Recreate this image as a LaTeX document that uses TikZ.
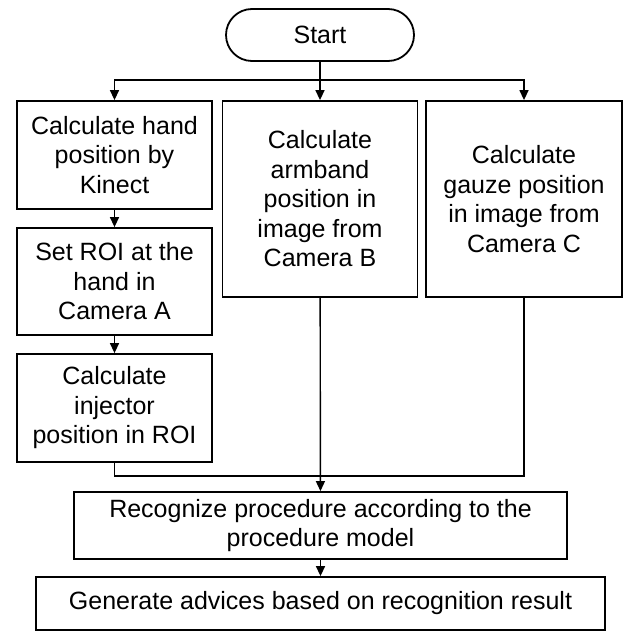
\documentclass[tikz,border=0pt]{standalone}
\usepackage{fontspec}
\setmainfont{Liberation Sans}
\usetikzlibrary{arrows.meta}

\begin{document}
\begin{tikzpicture}
  [
    x=0.5pt, y=-0.5pt,
    every node/.style={draw, line width=0.9pt, align=center, inner sep=0pt,
      font=\fontsize{12.5}{14.75}\selectfont},
    stepbox/.style={rectangle, minimum width=97.5pt, minimum height=54pt},
    tallbox/.style={rectangle, minimum width=97.5pt, minimum height=98pt},
    link/.style={line width=0.7pt},
    arr/.style={link, -{Triangle[length=5pt,width=4.5pt]}}
  ]
  \useasboundingbox (0,0) rectangle (626,631);
  \node[rounded corners=13pt, minimum width=94pt, minimum height=26pt] (start) at (320,35) {Start};
  \coordinate (split) at (320,80);
  \coordinate (merge) at (320,476);
  \node[stepbox] (hand) at (114.5,155) {Calculate hand\\position by\\Kinect};
  \node[stepbox, minimum height=53.5pt] (roi) at (114.5,281.5) {Set ROI at the\\hand in\\Camera A};
  \node[stepbox] (injector) at (114.5,408) {Calculate\\injector\\position in ROI};
  \node[tallbox] (armband) at (320,199) {Calculate\\armband\\position in\\image from\\Camera B};
  \node[tallbox, minimum width=98pt] (gauze) at (524,199) {Calculate\\gauze position\\in image from\\Camera C};
  \node[rectangle, minimum width=246.5pt, minimum height=33.5pt] (recog) at (320.5,525.5)
    {Recognize procedure according to the\\procedure model};
  \node[rectangle, minimum width=284.5pt, minimum height=26.5pt] (advice) at (320.5,603.5)
    {Generate advices based on recognition result};
  \draw[link] (start) -- (split);
  \draw[arr] (split) -| (hand);
  \draw[arr] (split) -- (armband);
  \draw[arr] (split) -| (gauze);
  \draw[arr] (hand) -- (roi);
  \draw[arr] (roi) -- (injector);
  \draw[link] (injector) |- (merge);
  \draw[link] (gauze) |- (merge);
  \draw[arr] (armband) -- (recog);
  \draw[arr] (recog) -- (advice);
\end{tikzpicture}
\end{document}
